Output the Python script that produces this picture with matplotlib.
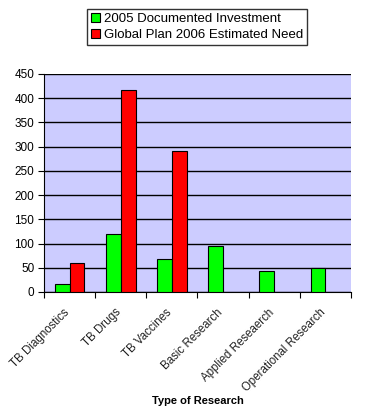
import matplotlib
matplotlib.use("Agg")
import matplotlib.pyplot as plt
import numpy as np

categories = ["TB Diagnostics", "TB Drugs", "TB Vaccines", "Basic Research",
              "Applied Reseaerch", "Operational Research"]
invest_2005 = [16, 120, 69, 95, 43, 49]
need_2006 = [60, 418, 292, None, None, None]
series_names = ["2005 Documented Investment", "Global Plan 2006 Estimated Need"]
yticks = [0, 50, 100, 150, 200, 250, 300, 350, 400, 450]

plt.rcParams['font.family'] = ['Liberation Sans', 'DejaVu Sans']

W, H = 381, 419
fig = plt.figure(figsize=(W / 100, H / 100), dpi=100)
ax = fig.add_axes([44 / W, (H - 292) / H, 307 / W, 218 / H])
ax.set_facecolor('#CCCCFF')

x = np.arange(len(categories))
bw = 0.29
ax.bar(x - bw / 2, invest_2005, width=bw, color='#00FF00', edgecolor='black',
       linewidth=0.8, label=series_names[0], zorder=3)
nx = [xi for xi, v in zip(x, need_2006) if v is not None]
nv = [v for v in need_2006 if v is not None]
ax.bar(np.array(nx) + bw / 2, nv, width=bw, color='#FF0000', edgecolor='black',
       linewidth=0.8, label=series_names[1], zorder=3)

ax.set_xlim(-0.5, len(categories) - 0.5)
ax.set_ylim(0, 450)
ax.set_yticks(yticks)
ax.yaxis.grid(True, color='black', linewidth=1.0, zorder=1)
ax.set_axisbelow(True)
ax.tick_params(axis='y', labelsize=8.5, length=4, direction='out', pad=3)

ax.set_xticks(np.arange(len(categories) + 1) - 0.5)
ax.set_xticklabels([])
ax.tick_params(axis='x', length=4, direction='out')
for xi, lab in zip(x, categories):
    ax.text(xi - 0.12, -30, lab, rotation=45, ha='right', va='top',
            rotation_mode='anchor', fontsize=8.3, color='#222222')

for s in ['top', 'right']:
    ax.spines[s].set_visible(False)
ax.spines['left'].set_color('black')
ax.spines['bottom'].set_color('black')

fig.text(198 / W, 1 - 401 / H, "Type of Research", ha='center', va='center',
         fontsize=8, fontweight='bold')

leg = fig.legend(loc='center', bbox_to_anchor=(197 / W, 1 - 27 / H), fontsize=9.5,
                 frameon=True, fancybox=False, edgecolor='black',
                 handlelength=0.7, handleheight=0.7, handletextpad=0.3,
                 borderpad=0.3, labelspacing=0.3)
leg.get_frame().set_linewidth(1.0)

fig.savefig("out.png", dpi=100)
